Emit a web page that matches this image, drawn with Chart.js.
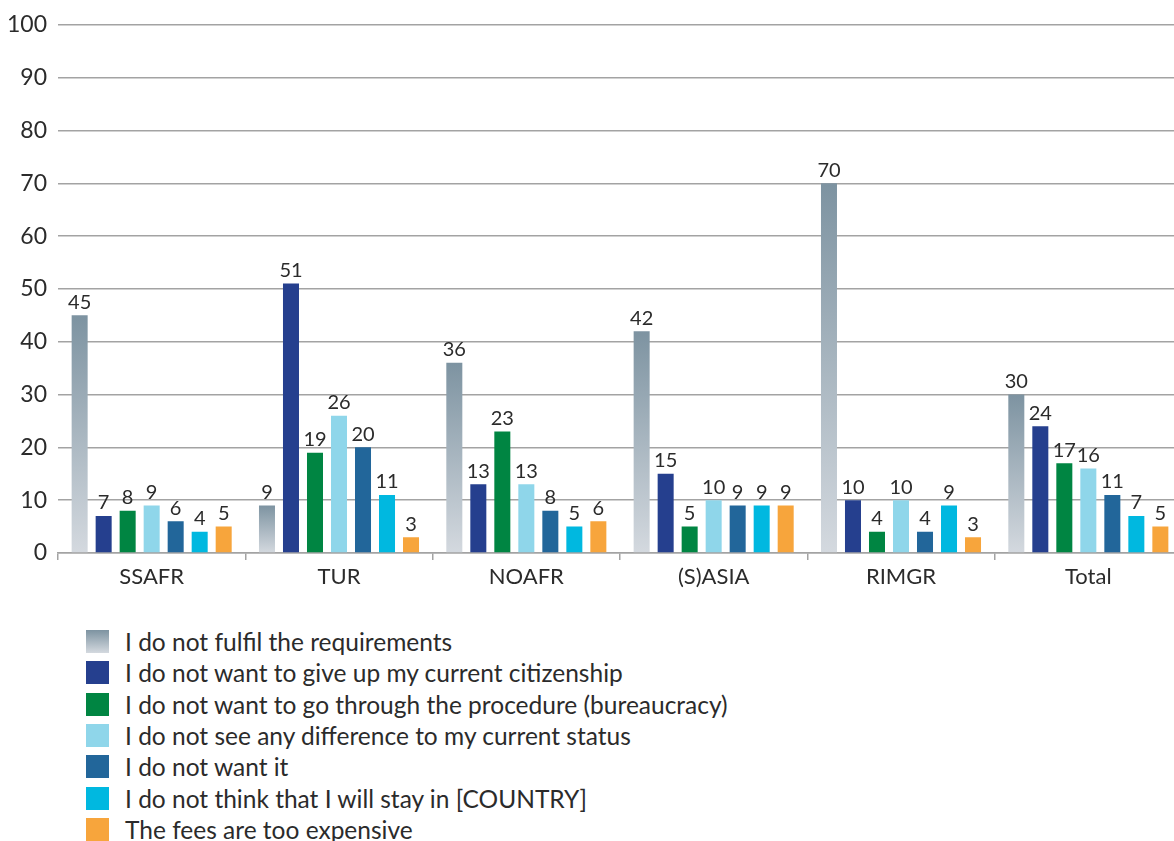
<!DOCTYPE html>
<html>
<head>
<meta charset="utf-8">
<script src="https://cdn.jsdelivr.net/npm/chart.js@4/dist/chart.umd.min.js"></script>
<style>
  html, body { margin: 0; padding: 0; background: #fff; overflow: hidden; width: 1174px; height: 841px; }
  #wrap { position: relative; width: 1174px; height: 841px; }
  canvas { position: absolute; left: 0; top: 0; }
  #legend { position: absolute; left: 86px; top: 626px; font-family: Lato, sans-serif; font-size: 24.5px; color: #2b2b2b; }
  .item { display: flex; align-items: center; height: 31.3px; white-space: nowrap; }
  .box { width: 23px; height: 23px; margin-right: 16px; flex: none; }
</style>
</head>
<body>
<div id="wrap">
  <canvas id="c" width="1182" height="600"></canvas>
  <div id="legend"></div>
</div>
<script>
const categories = ["SSAFR", "TUR", "NOAFR", "(S)ASIA", "RIMGR", "Total"];
const seriesNames = [
  "I do not fulfil the requirements",
  "I do not want to give up my current citizenship",
  "I do not want to go through the procedure (bureaucracy)",
  "I do not see any difference to my current status",
  "I do not want it",
  "I do not think that I will stay in [COUNTRY]",
  "The fees are too expensive"
];
const requirements = [45, 9, 36, 42, 70, 30];
const citizenship  = [7, 51, 13, 15, 10, 24];
const procedure    = [8, 19, 23, 5, 4, 17];
const difference   = [9, 26, 13, 10, 10, 16];
const wantIt       = [6, 20, 8, 9, 4, 11];
const stay         = [4, 11, 5, 9, 9, 7];
const fees         = [5, 3, 6, 9, 3, 5];
const yTicks = [0, 10, 20, 30, 40, 50, 60, 70, 80, 90, 100];

const gradTop = "#7d93a1", gradBottom = "#d4d9df";
const colors = [null, "#253f8e", "#008542", "#8fd6ea", "#22669a", "#00b8e0", "#f7a53c"];
const values = [requirements, citizenship, procedure, difference, wantIt, stay, fees];

function gradientFill(ctx) {
  const chart = ctx.chart;
  if (!chart.chartArea || ctx.raw === undefined) return gradTop;
  const ys = chart.scales.y;
  const y0 = ys.getPixelForValue(ctx.raw);
  const y1 = ys.getPixelForValue(0);
  const g = chart.ctx.createLinearGradient(0, y0, 0, y1);
  g.addColorStop(0, gradTop);
  g.addColorStop(1, gradBottom);
  return g;
}

const datasets = values.map((v, i) => ({
  label: seriesNames[i],
  data: v,
  backgroundColor: i === 0 ? gradientFill : colors[i],
  borderWidth: 0,
  categoryPercentage: 0.897,
  barPercentage: 0.667
}));

const FONT = "Lato, sans-serif";
const TXT = "#2b2b2b";

const valueLabels = {
  id: "valueLabels",
  afterDatasetsDraw(chart) {
    const c = chart.ctx;
    c.save();
    c.font = "20px " + FONT;
    c.fillStyle = TXT;
    c.textAlign = "center";
    c.textBaseline = "bottom";
    chart.data.datasets.forEach((ds, di) => {
      const meta = chart.getDatasetMeta(di);
      meta.data.forEach((bar, j) => {
        c.fillText(String(ds.data[j]), bar.x, bar.y - 3);
      });
    });
    c.restore();
  }
};

new Chart(document.getElementById("c"), {
  type: "bar",
  data: { labels: categories, datasets },
  plugins: [valueLabels],
  options: {
    responsive: false,
    animation: false,
    layout: { padding: { top: 15, right: 0, bottom: 0, left: 0 } },
    plugins: { legend: { display: false }, tooltip: { enabled: false } },
    scales: {
      y: {
        min: 0, max: 100,
        afterBuildTicks(scale) { scale.ticks = yTicks.map(v => ({ value: v })); },
        afterFit(scale) { scale.width = 58; },
        border: { display: false },
        grid: { color: "#a3a3a3", lineWidth: 1.5, drawTicks: false },
        ticks: { padding: 11, color: TXT, font: { family: FONT, size: 23 } }
      },
      x: {
        afterFit(scale) { scale.height = 47; },
        border: { display: true, color: "#a3a3a3", width: 1.5 },
        grid: { display: true, drawOnChartArea: false, drawTicks: true, tickLength: 7, offset: true, color: "#a3a3a3", lineWidth: 1.5 },
        ticks: { padding: 4, color: TXT, font: { family: FONT, size: 22 } }
      }
    }
  }
});

const legend = document.getElementById("legend");
seriesNames.forEach((name, i) => {
  const row = document.createElement("div");
  row.className = "item";
  const box = document.createElement("span");
  box.className = "box";
  box.style.background = i === 0 ? `linear-gradient(${gradTop}, ${gradBottom})` : colors[i];
  const t = document.createElement("span");
  t.textContent = name;
  row.appendChild(box);
  row.appendChild(t);
  legend.appendChild(row);
});
</script>
</body>
</html>
